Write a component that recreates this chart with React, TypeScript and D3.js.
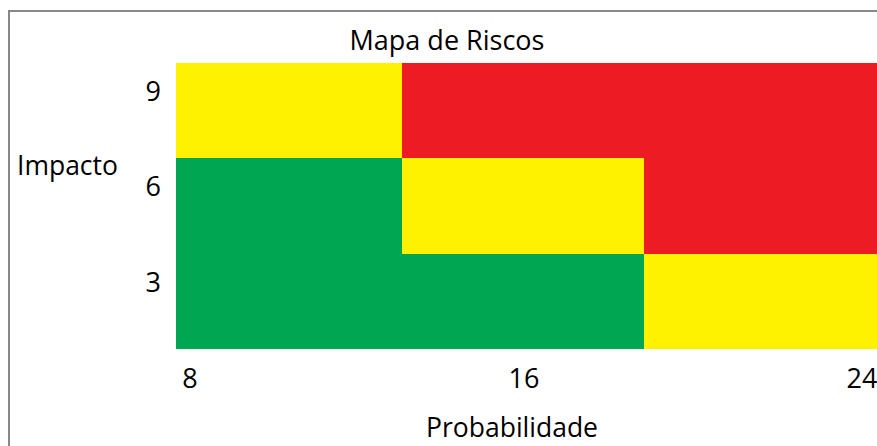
import React from 'react';
import * as d3 from 'd3';

// row categories (top to bottom) and probability ticks
const impactLevels = [9, 6, 3];
const probTicks = [8, 16, 24];

// colour zones, in probability units, per impact row
const zoneRow9 = [
  { from: 8, to: 13.15, level: 'medio' },
  { from: 13.15, to: 24, level: 'alto' }
];
const zoneRow6 = [
  { from: 8, to: 13.15, level: 'baixo' },
  { from: 13.15, to: 18.67, level: 'medio' },
  { from: 18.67, to: 24, level: 'alto' }
];
const zoneRow3 = [
  { from: 8, to: 18.67, level: 'baixo' },
  { from: 18.67, to: 24, level: 'medio' }
];

const colors = { baixo: '#00A651', medio: '#FFF200', alto: '#ED1C24' };

const W = 877;
const H = 446;
const font = "'Open Sans', 'Noto Sans', sans-serif";

export default function App() {
  const x = d3.scaleLinear().domain([8, 24]).range([176, 878]);
  const y = d3
    .scaleBand<number>()
    .domain(impactLevels)
    .range([62.7, 349])
    .padding(0);

  const rows = [
    { impact: 9, zones: zoneRow9 },
    { impact: 6, zones: zoneRow6 },
    { impact: 3, zones: zoneRow3 }
  ];

  return (
    <svg
      width={W}
      height={H}
      style={{ position: 'absolute', left: 0, top: 0, background: '#fff' }}
    >
      <rect x={9} y={11} width={W} height={H} fill="#fff" stroke="#888" strokeWidth={2} />

      <text x={447} y={50} textAnchor="middle" fontFamily={font} fontSize={27} fill="#000">
        Mapa de Riscos
      </text>

      {rows.map(r =>
        r.zones.map((z, i) => (
          <rect
            key={r.impact + '-' + i}
            x={x(z.from)}
            y={y(r.impact)}
            width={x(z.to) - x(z.from)}
            height={y.bandwidth()}
            fill={colors[z.level]}
            shapeRendering="crispEdges"
          />
        ))
      )}

      {impactLevels.map(d => (
        <text
          key={d}
          x={161}
          y={(y(d) as number) + 38}
          textAnchor="end"
          fontFamily={font}
          fontSize={27}
          fill="#000"
        >
          {d}
        </text>
      ))}

      {probTicks.map((d, i) => (
        <text
          key={d}
          x={i === 0 ? x(d) + 14 : i === probTicks.length - 1 ? x(d) - 16 : x(d) - 3}
          y={388}
          textAnchor="middle"
          fontFamily={font}
          fontSize={27}
          fill="#000"
        >
          {d}
        </text>
      ))}

      <text x={17} y={175} fontFamily={font} fontSize={26.5} fill="#000">
        Impacto
      </text>
      <text x={512} y={437} textAnchor="middle" fontFamily={font} fontSize={26.5} fill="#000">
        Probabilidade
      </text>
    </svg>
  );
}
